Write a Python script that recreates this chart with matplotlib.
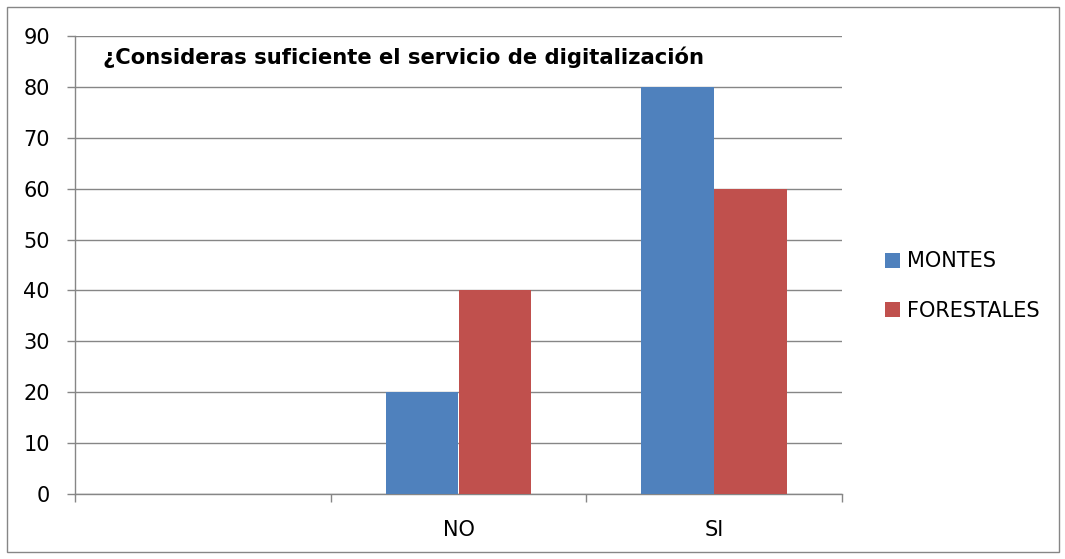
import numpy as np
import matplotlib.pyplot as plt
from matplotlib.patches import Rectangle

# Data
categories = ["", "NO", "SI"]
montes = [np.nan, 20, 80]
forestales = [np.nan, 40, 60]
series_names = ["MONTES", "FORESTALES"]
title = "¿Consideras suficiente el servicio de digitalización"

blue = "#4F81BD"
red = "#C0504D"
grid_col = "#868686"

plt.rcParams["font.family"] = ["DejaVu Sans"]

fig = plt.figure(figsize=(10.65, 5.59), dpi=100)
ax = fig.add_axes([75 / 1065, 1 - 494 / 559, 767 / 1065, 458 / 559])

# outer chart border
fig.patches.append(Rectangle((7 / 1065, 7 / 559), 1052 / 1065, 545 / 559,
                             transform=fig.transFigure, fill=False,
                             edgecolor=grid_col, linewidth=1.0))

x = np.arange(len(categories))
width = 0.2855
ax.bar(x - width / 2, montes, width, color=blue, label=series_names[0], zorder=3)
ax.bar(x + width / 2, forestales, width, color=red, label=series_names[1], zorder=3)

ax.set_xlim(-0.5, len(categories) - 0.5)
ax.set_ylim(0, 90)
ax.set_yticks(range(0, 91, 10))
ax.yaxis.grid(True, color=grid_col, linewidth=1.0, zorder=0)
ax.set_axisbelow(True)

# category boundaries as ticks
ax.set_xticks(np.arange(-0.5, len(categories), 1.0))
ax.set_xticklabels([])
ax.set_xticks(x, minor=True)
ax.set_xticklabels(categories, minor=True, fontsize=15)
ax.tick_params(axis="x", which="minor", length=0, pad=19)
ax.tick_params(axis="x", which="major", length=6, color=grid_col, width=1.0)
ax.tick_params(axis="y", length=6, color=grid_col, width=1.0, labelsize=15, pad=12)

for side in ["top", "right"]:
    ax.spines[side].set_visible(False)
for side in ["left", "bottom"]:
    ax.spines[side].set_color(grid_col)
    ax.spines[side].set_linewidth(1.0)

ttl = ax.text(28 / 767, 1 - 21 / 458, title, transform=ax.transAxes,
              fontsize=15, fontweight="bold", va="center", ha="left")

leg = fig.legend(loc="center left", bbox_to_anchor=(866 / 1065, 1 - 286 / 559),
                 frameon=False, fontsize=15, handlelength=0.72, handleheight=0.72,
                 handletextpad=0.34, labelspacing=1.4)

# fit the title width to the reference
r = fig.canvas.get_renderer()
w = ttl.get_window_extent(r).width
ttl.set_fontsize(ttl.get_fontsize() * 604 / w)

fig.savefig("out.png", dpi=100)
